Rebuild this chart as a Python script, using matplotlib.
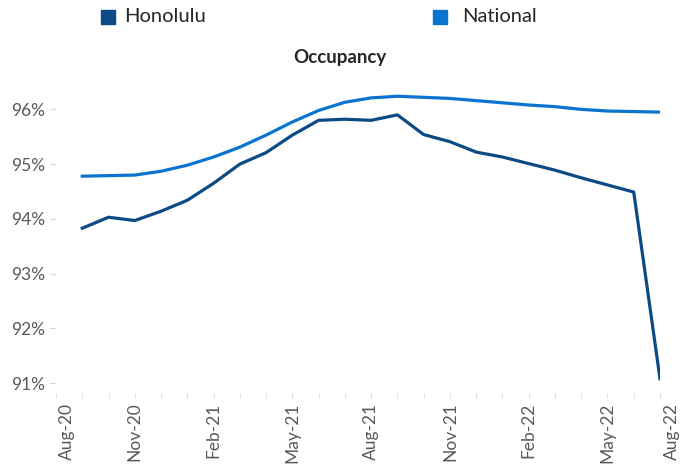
import numpy as np
import matplotlib
matplotlib.use('Agg')
import matplotlib.pyplot as plt
from matplotlib.patches import Rectangle

plt.rcParams['font.family'] = ['Lato', 'DejaVu Sans']

# Monthly occupancy, Sep-20 .. Jul-22 (month index 1..23 from Aug-20)
months = ['Sep-20', 'Oct-20', 'Nov-20', 'Dec-20', 'Jan-21', 'Feb-21', 'Mar-21', 'Apr-21',
          'May-21', 'Jun-21', 'Jul-21', 'Aug-21', 'Sep-21', 'Oct-21', 'Nov-21', 'Dec-21',
          'Jan-22', 'Feb-22', 'Mar-22', 'Apr-22', 'May-22', 'Jun-22', 'Jul-22']
honolulu = [93.83, 94.03, 93.97, 94.14, 94.34, 94.65, 95.00, 95.21, 95.53, 95.80, 95.82, 95.80,
            95.90, 95.54, 95.41, 95.22, 95.13, 95.01, 94.89, 94.75, 94.62, 94.49, 91.08]
national = [94.78, 94.79, 94.80, 94.87, 94.98, 95.13, 95.31, 95.53, 95.77, 95.98, 96.13, 96.21,
            96.24, 96.22, 96.20, 96.16, 96.12, 96.08, 96.05, 96.00, 95.97, 95.96, 95.95]

x_labels = ['Aug-20', 'Nov-20', 'Feb-21', 'May-21', 'Aug-21', 'Nov-21', 'Feb-22', 'May-22', 'Aug-22']
y_ticks = [91, 92, 93, 94, 95, 96]

HON_COLOR = '#0b4a85'
NAT_COLOR = '#0a74d0'
GRAY = '#595959'

W, H = 683, 467
fig = plt.figure(figsize=(W / 100, H / 100), dpi=100)
ax = fig.add_axes([56 / W, 1 - 393 / H, (660 - 56) / W, (393 - 82) / H])

x = np.arange(1, len(months) + 1)
ax.plot(x, honolulu, color=HON_COLOR, lw=2.3)
ax.plot(x, national, color=NAT_COLOR, lw=2.3)

for s in ax.spines.values():
    s.set_visible(False)

ax.set_yticks(y_ticks)
ax.set_yticklabels([f'{v}%' for v in y_ticks], color=GRAY, fontsize=12.5)
ax.tick_params(axis='y', length=4, width=0.8, color='#d9d9d9', pad=4)

# month tick marks; quarter labels drawn as annotations (edge labels nudged inward as in source)
ax.set_xticks(np.arange(0, 24))
ax.set_xticklabels([])
ax.tick_params(axis='x', length=4, width=0.8, color='#e0e0e0')
label_pos = [0.42] + [3 * k for k in range(1, 8)] + [23.45]
for pos, lab in zip(label_pos, x_labels):
    ax.annotate(lab, xy=(pos, 0), xycoords=('data', 'axes fraction'),
                xytext=(0, -7), textcoords='offset points', rotation=90,
                ha='center', va='top', color=GRAY, fontsize=12.5, annotation_clip=False)

ax.set_xlim(0, 23)
ax.set_ylim(90.82, 96.5)

# title and legend
fig.text(340 / W, 1 - 57 / H, 'Occupancy', ha='center', va='center',
         fontsize=13.5, fontweight='bold', color='#262626')
for sx, tx, col, name in [(101, 124, HON_COLOR, 'Honolulu'), (433, 462, NAT_COLOR, 'National')]:
    fig.patches.append(Rectangle((sx / W, 1 - 24 / H), 14 / W, 14 / H,
                                 transform=fig.transFigure, color=col))
    fig.text(tx / W, 1 - 17 / H, name, ha='left', va='center', fontsize=14.5, color='#262626')

fig.savefig('out.png', dpi=100)
